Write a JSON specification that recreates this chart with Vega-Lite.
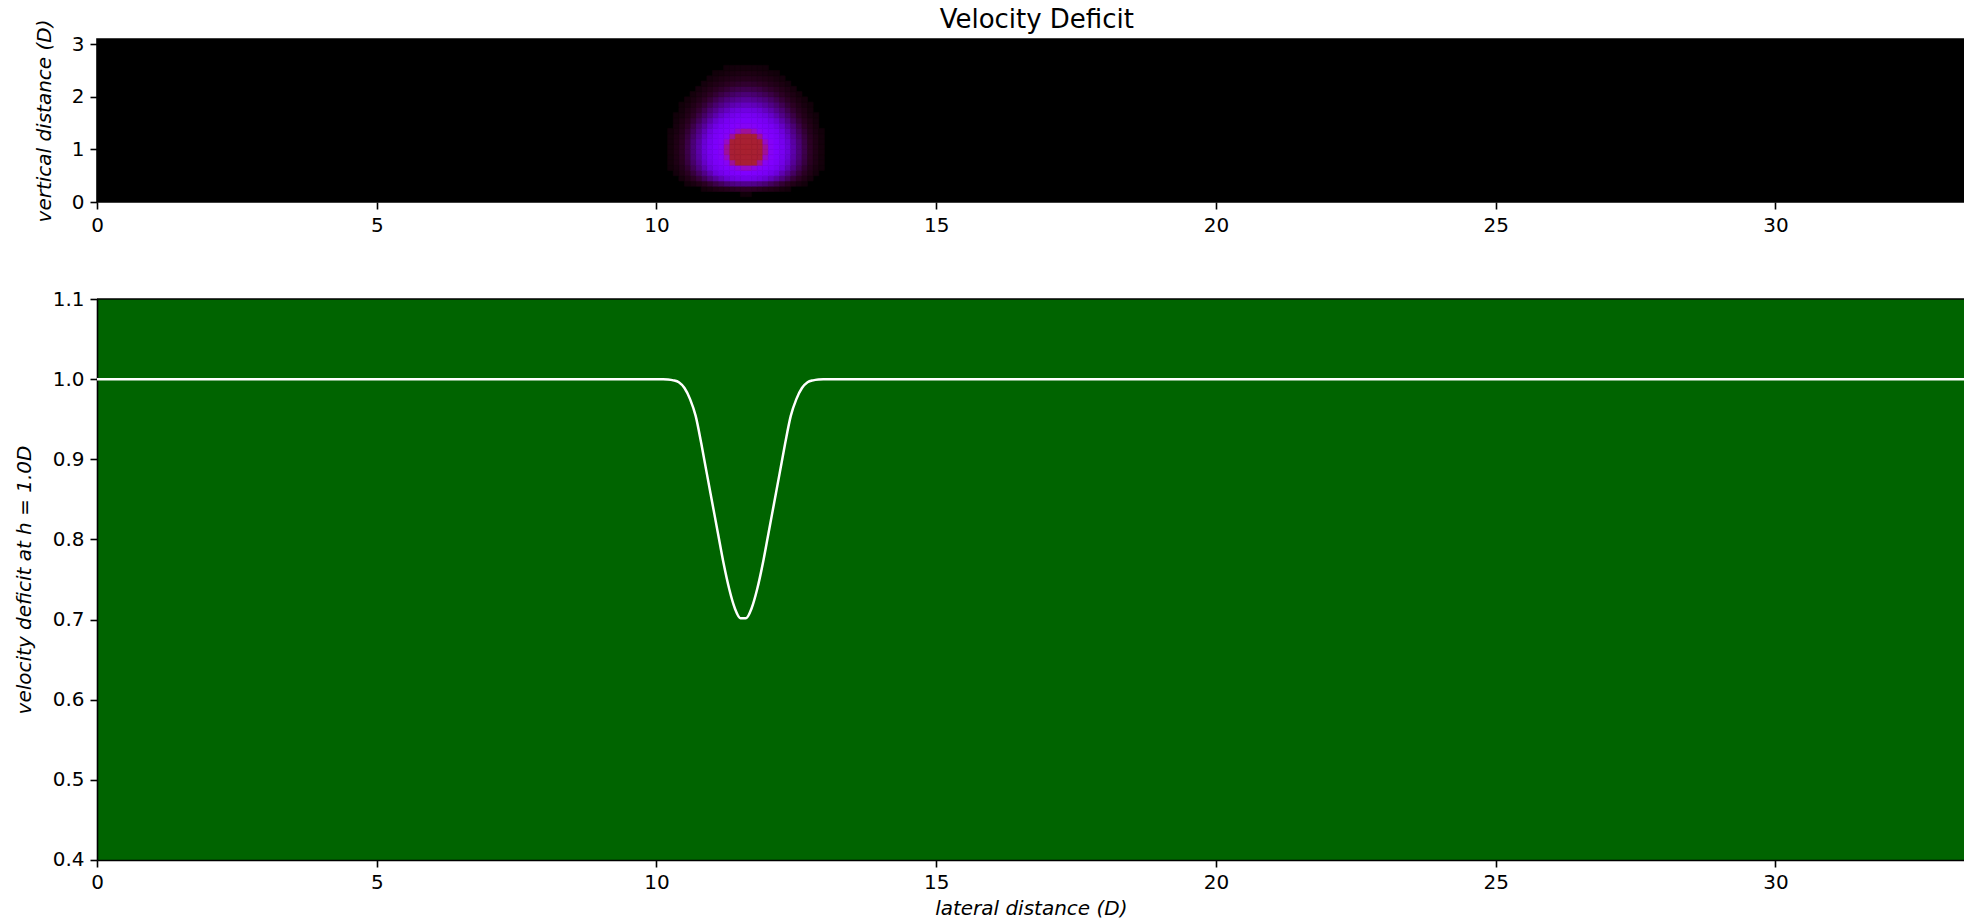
{
  "$schema": "https://vega.github.io/schema/vega-lite/v6.json",
  "background": "#ffffff",
  "padding": {"left": 14, "top": 6, "right": 0, "bottom": 0},
  "autosize": {"type": "pad"},
  "bounds": "flush",
  "spacing": 97,
  "config": {
    "font": "DejaVu Sans",
    "view": {"stroke": null},
    "axis": {
      "labelFont": "DejaVu Sans", "labelFontSize": 20, "labelColor": "#000000", "labelFlush": false,
      "titleFont": "DejaVu Sans", "titleFontSize": 20, "titleFontWeight": "normal", "titleFontStyle": "italic", "titleColor": "#000000",
      "tickColor": "#000000", "tickSize": 7, "tickWidth": 1.6, "labelPadding": 6,
      "domainColor": "#000000", "domainWidth": 1.6, "grid": false
    },
    "title": {"font": "DejaVu Sans", "fontSize": 26, "fontWeight": "normal", "color": "#000000"}
  },
  "vconcat": [
    {
      "width": 1867.6,
      "height": 163,
      "title": {"text": "Velocity Deficit", "anchor": "middle", "frame": "group", "dx": 6, "dy": 22.5, "offset": 8},
      "view": {"fill": "#000000", "stroke": "#000000", "strokeWidth": 1.6},
      "data": {"values": [
        {"x":11.5,"x2":11.6,"y":0.1,"y2":0.2,"v":0.001},{"x":11.6,"x2":11.7,"y":0.1,"y2":0.2,"v":0.001},
        {"x":11.5,"x2":11.6,"y":0.2,"y2":0.3,"v":0.013},{"x":11.4,"x2":11.5,"y":0.2,"y2":0.3,"v":0.012},{"x":11.3,"x2":11.4,"y":0.2,"y2":0.3,"v":0.0103},{"x":11.2,"x2":11.3,"y":0.2,"y2":0.3,"v":0.008},{"x":11.1,"x2":11.2,"y":0.2,"y2":0.3,"v":0.006},{"x":11.0,"x2":11.1,"y":0.2,"y2":0.3,"v":0.004},{"x":10.9,"x2":11.0,"y":0.2,"y2":0.3,"v":0.0025},{"x":10.8,"x2":10.9,"y":0.2,"y2":0.3,"v":0.0014},
        {"x":11.6,"x2":11.7,"y":0.2,"y2":0.3,"v":0.013},{"x":11.7,"x2":11.8,"y":0.2,"y2":0.3,"v":0.012},{"x":11.8,"x2":11.9,"y":0.2,"y2":0.3,"v":0.0103},{"x":11.9,"x2":12.0,"y":0.2,"y2":0.3,"v":0.008},{"x":12.0,"x2":12.1,"y":0.2,"y2":0.3,"v":0.006},{"x":12.1,"x2":12.2,"y":0.2,"y2":0.3,"v":0.004},{"x":12.2,"x2":12.3,"y":0.2,"y2":0.3,"v":0.0025},{"x":12.3,"x2":12.4,"y":0.2,"y2":0.3,"v":0.0014},
        {"x":11.5,"x2":11.6,"y":0.3,"y2":0.4,"v":0.112},{"x":11.4,"x2":11.5,"y":0.3,"y2":0.4,"v":0.106},{"x":11.3,"x2":11.4,"y":0.3,"y2":0.4,"v":0.092},{"x":11.2,"x2":11.3,"y":0.3,"y2":0.4,"v":0.075},{"x":11.1,"x2":11.2,"y":0.3,"y2":0.4,"v":0.055},{"x":11.0,"x2":11.1,"y":0.3,"y2":0.4,"v":0.036},{"x":10.9,"x2":11.0,"y":0.3,"y2":0.4,"v":0.022},{"x":10.8,"x2":10.9,"y":0.3,"y2":0.4,"v":0.011},{"x":10.7,"x2":10.8,"y":0.3,"y2":0.4,"v":0.0057},{"x":10.6,"x2":10.7,"y":0.3,"y2":0.4,"v":0.0028},{"x":10.5,"x2":10.6,"y":0.3,"y2":0.4,"v":0.0012},
        {"x":11.6,"x2":11.7,"y":0.3,"y2":0.4,"v":0.112},{"x":11.7,"x2":11.8,"y":0.3,"y2":0.4,"v":0.106},{"x":11.8,"x2":11.9,"y":0.3,"y2":0.4,"v":0.092},{"x":11.9,"x2":12.0,"y":0.3,"y2":0.4,"v":0.075},{"x":12.0,"x2":12.1,"y":0.3,"y2":0.4,"v":0.055},{"x":12.1,"x2":12.2,"y":0.3,"y2":0.4,"v":0.036},{"x":12.2,"x2":12.3,"y":0.3,"y2":0.4,"v":0.022},{"x":12.3,"x2":12.4,"y":0.3,"y2":0.4,"v":0.011},{"x":12.4,"x2":12.5,"y":0.3,"y2":0.4,"v":0.0057},{"x":12.5,"x2":12.6,"y":0.3,"y2":0.4,"v":0.0028},{"x":12.6,"x2":12.7,"y":0.3,"y2":0.4,"v":0.0012},
        {"x":11.5,"x2":11.6,"y":0.4,"y2":0.5,"v":0.353},{"x":11.4,"x2":11.5,"y":0.4,"y2":0.5,"v":0.335},{"x":11.3,"x2":11.4,"y":0.4,"y2":0.5,"v":0.299},{"x":11.2,"x2":11.3,"y":0.4,"y2":0.5,"v":0.249},{"x":11.1,"x2":11.2,"y":0.4,"y2":0.5,"v":0.19},{"x":11.0,"x2":11.1,"y":0.4,"y2":0.5,"v":0.133},{"x":10.9,"x2":11.0,"y":0.4,"y2":0.5,"v":0.089},{"x":10.8,"x2":10.9,"y":0.4,"y2":0.5,"v":0.052},{"x":10.7,"x2":10.8,"y":0.4,"y2":0.5,"v":0.026},{"x":10.6,"x2":10.7,"y":0.4,"y2":0.5,"v":0.0117},{"x":10.5,"x2":10.6,"y":0.4,"y2":0.5,"v":0.005},{"x":10.4,"x2":10.5,"y":0.4,"y2":0.5,"v":0.002},
        {"x":11.6,"x2":11.7,"y":0.4,"y2":0.5,"v":0.353},{"x":11.7,"x2":11.8,"y":0.4,"y2":0.5,"v":0.335},{"x":11.8,"x2":11.9,"y":0.4,"y2":0.5,"v":0.299},{"x":11.9,"x2":12.0,"y":0.4,"y2":0.5,"v":0.249},{"x":12.0,"x2":12.1,"y":0.4,"y2":0.5,"v":0.19},{"x":12.1,"x2":12.2,"y":0.4,"y2":0.5,"v":0.133},{"x":12.2,"x2":12.3,"y":0.4,"y2":0.5,"v":0.089},{"x":12.3,"x2":12.4,"y":0.4,"y2":0.5,"v":0.052},{"x":12.4,"x2":12.5,"y":0.4,"y2":0.5,"v":0.026},{"x":12.5,"x2":12.6,"y":0.4,"y2":0.5,"v":0.0117},{"x":12.6,"x2":12.7,"y":0.4,"y2":0.5,"v":0.005},{"x":12.7,"x2":12.8,"y":0.4,"y2":0.5,"v":0.002},
        {"x":11.5,"x2":11.6,"y":0.5,"y2":0.6,"v":0.552},{"x":11.4,"x2":11.5,"y":0.5,"y2":0.6,"v":0.529},{"x":11.3,"x2":11.4,"y":0.5,"y2":0.6,"v":0.484},{"x":11.2,"x2":11.3,"y":0.5,"y2":0.6,"v":0.422},{"x":11.1,"x2":11.2,"y":0.5,"y2":0.6,"v":0.346},{"x":11.0,"x2":11.1,"y":0.5,"y2":0.6,"v":0.259},{"x":10.9,"x2":11.0,"y":0.5,"y2":0.6,"v":0.172},{"x":10.8,"x2":10.9,"y":0.5,"y2":0.6,"v":0.105},{"x":10.7,"x2":10.8,"y":0.5,"y2":0.6,"v":0.059},{"x":10.6,"x2":10.7,"y":0.5,"y2":0.6,"v":0.028},{"x":10.5,"x2":10.6,"y":0.5,"y2":0.6,"v":0.011},{"x":10.4,"x2":10.5,"y":0.5,"y2":0.6,"v":0.0045},{"x":10.3,"x2":10.4,"y":0.5,"y2":0.6,"v":0.0016},
        {"x":11.6,"x2":11.7,"y":0.5,"y2":0.6,"v":0.552},{"x":11.7,"x2":11.8,"y":0.5,"y2":0.6,"v":0.529},{"x":11.8,"x2":11.9,"y":0.5,"y2":0.6,"v":0.484},{"x":11.9,"x2":12.0,"y":0.5,"y2":0.6,"v":0.422},{"x":12.0,"x2":12.1,"y":0.5,"y2":0.6,"v":0.346},{"x":12.1,"x2":12.2,"y":0.5,"y2":0.6,"v":0.259},{"x":12.2,"x2":12.3,"y":0.5,"y2":0.6,"v":0.172},{"x":12.3,"x2":12.4,"y":0.5,"y2":0.6,"v":0.105},{"x":12.4,"x2":12.5,"y":0.5,"y2":0.6,"v":0.059},{"x":12.5,"x2":12.6,"y":0.5,"y2":0.6,"v":0.028},{"x":12.6,"x2":12.7,"y":0.5,"y2":0.6,"v":0.011},{"x":12.7,"x2":12.8,"y":0.5,"y2":0.6,"v":0.0045},{"x":12.8,"x2":12.9,"y":0.5,"y2":0.6,"v":0.0016},
        {"x":11.5,"x2":11.6,"y":0.6,"y2":0.7,"v":0.727},{"x":11.4,"x2":11.5,"y":0.6,"y2":0.7,"v":0.696},{"x":11.3,"x2":11.4,"y":0.6,"y2":0.7,"v":0.637},{"x":11.2,"x2":11.3,"y":0.6,"y2":0.7,"v":0.559},{"x":11.1,"x2":11.2,"y":0.6,"y2":0.7,"v":0.469},{"x":11.0,"x2":11.1,"y":0.6,"y2":0.7,"v":0.37},{"x":10.9,"x2":11.0,"y":0.6,"y2":0.7,"v":0.264},{"x":10.8,"x2":10.9,"y":0.6,"y2":0.7,"v":0.163},{"x":10.7,"x2":10.8,"y":0.6,"y2":0.7,"v":0.094},{"x":10.6,"x2":10.7,"y":0.6,"y2":0.7,"v":0.048},{"x":10.5,"x2":10.6,"y":0.6,"y2":0.7,"v":0.0197},{"x":10.4,"x2":10.5,"y":0.6,"y2":0.7,"v":0.0077},{"x":10.3,"x2":10.4,"y":0.6,"y2":0.7,"v":0.0028},{"x":10.2,"x2":10.3,"y":0.6,"y2":0.7,"v":0.001},
        {"x":11.6,"x2":11.7,"y":0.6,"y2":0.7,"v":0.727},{"x":11.7,"x2":11.8,"y":0.6,"y2":0.7,"v":0.696},{"x":11.8,"x2":11.9,"y":0.6,"y2":0.7,"v":0.637},{"x":11.9,"x2":12.0,"y":0.6,"y2":0.7,"v":0.559},{"x":12.0,"x2":12.1,"y":0.6,"y2":0.7,"v":0.469},{"x":12.1,"x2":12.2,"y":0.6,"y2":0.7,"v":0.37},{"x":12.2,"x2":12.3,"y":0.6,"y2":0.7,"v":0.264},{"x":12.3,"x2":12.4,"y":0.6,"y2":0.7,"v":0.163},{"x":12.4,"x2":12.5,"y":0.6,"y2":0.7,"v":0.094},{"x":12.5,"x2":12.6,"y":0.6,"y2":0.7,"v":0.048},{"x":12.6,"x2":12.7,"y":0.6,"y2":0.7,"v":0.0197},{"x":12.7,"x2":12.8,"y":0.6,"y2":0.7,"v":0.0077},{"x":12.8,"x2":12.9,"y":0.6,"y2":0.7,"v":0.0028},{"x":12.9,"x2":13.0,"y":0.6,"y2":0.7,"v":0.001},
        {"x":11.5,"x2":11.6,"y":0.7,"y2":0.8,"v":0.868},{"x":11.4,"x2":11.5,"y":0.7,"y2":0.8,"v":0.831},{"x":11.3,"x2":11.4,"y":0.7,"y2":0.8,"v":0.763},{"x":11.2,"x2":11.3,"y":0.7,"y2":0.8,"v":0.668},{"x":11.1,"x2":11.2,"y":0.7,"y2":0.8,"v":0.562},{"x":11.0,"x2":11.1,"y":0.7,"y2":0.8,"v":0.45},{"x":10.9,"x2":11.0,"y":0.7,"y2":0.8,"v":0.335},{"x":10.8,"x2":10.9,"y":0.7,"y2":0.8,"v":0.218},{"x":10.7,"x2":10.8,"y":0.7,"y2":0.8,"v":0.124},{"x":10.6,"x2":10.7,"y":0.7,"y2":0.8,"v":0.066},{"x":10.5,"x2":10.6,"y":0.7,"y2":0.8,"v":0.029},{"x":10.4,"x2":10.5,"y":0.7,"y2":0.8,"v":0.0103},{"x":10.3,"x2":10.4,"y":0.7,"y2":0.8,"v":0.004},{"x":10.2,"x2":10.3,"y":0.7,"y2":0.8,"v":0.0014},
        {"x":11.6,"x2":11.7,"y":0.7,"y2":0.8,"v":0.868},{"x":11.7,"x2":11.8,"y":0.7,"y2":0.8,"v":0.831},{"x":11.8,"x2":11.9,"y":0.7,"y2":0.8,"v":0.763},{"x":11.9,"x2":12.0,"y":0.7,"y2":0.8,"v":0.668},{"x":12.0,"x2":12.1,"y":0.7,"y2":0.8,"v":0.562},{"x":12.1,"x2":12.2,"y":0.7,"y2":0.8,"v":0.45},{"x":12.2,"x2":12.3,"y":0.7,"y2":0.8,"v":0.335},{"x":12.3,"x2":12.4,"y":0.7,"y2":0.8,"v":0.218},{"x":12.4,"x2":12.5,"y":0.7,"y2":0.8,"v":0.124},{"x":12.5,"x2":12.6,"y":0.7,"y2":0.8,"v":0.066},{"x":12.6,"x2":12.7,"y":0.7,"y2":0.8,"v":0.029},{"x":12.7,"x2":12.8,"y":0.7,"y2":0.8,"v":0.0103},{"x":12.8,"x2":12.9,"y":0.7,"y2":0.8,"v":0.004},{"x":12.9,"x2":13.0,"y":0.7,"y2":0.8,"v":0.0014},
        {"x":11.5,"x2":11.6,"y":0.8,"y2":0.9,"v":0.947},{"x":11.4,"x2":11.5,"y":0.8,"y2":0.9,"v":0.906},{"x":11.3,"x2":11.4,"y":0.8,"y2":0.9,"v":0.831},{"x":11.2,"x2":11.3,"y":0.8,"y2":0.9,"v":0.73},{"x":11.1,"x2":11.2,"y":0.8,"y2":0.9,"v":0.612},{"x":11.0,"x2":11.1,"y":0.8,"y2":0.9,"v":0.493},{"x":10.9,"x2":11.0,"y":0.8,"y2":0.9,"v":0.371},{"x":10.8,"x2":10.9,"y":0.8,"y2":0.9,"v":0.249},{"x":10.7,"x2":10.8,"y":0.8,"y2":0.9,"v":0.143},{"x":10.6,"x2":10.7,"y":0.8,"y2":0.9,"v":0.077},{"x":10.5,"x2":10.6,"y":0.8,"y2":0.9,"v":0.034},{"x":10.4,"x2":10.5,"y":0.8,"y2":0.9,"v":0.012},{"x":10.3,"x2":10.4,"y":0.8,"y2":0.9,"v":0.0046},{"x":10.2,"x2":10.3,"y":0.8,"y2":0.9,"v":0.0016},
        {"x":11.6,"x2":11.7,"y":0.8,"y2":0.9,"v":0.947},{"x":11.7,"x2":11.8,"y":0.8,"y2":0.9,"v":0.906},{"x":11.8,"x2":11.9,"y":0.8,"y2":0.9,"v":0.831},{"x":11.9,"x2":12.0,"y":0.8,"y2":0.9,"v":0.73},{"x":12.0,"x2":12.1,"y":0.8,"y2":0.9,"v":0.612},{"x":12.1,"x2":12.2,"y":0.8,"y2":0.9,"v":0.493},{"x":12.2,"x2":12.3,"y":0.8,"y2":0.9,"v":0.371},{"x":12.3,"x2":12.4,"y":0.8,"y2":0.9,"v":0.249},{"x":12.4,"x2":12.5,"y":0.8,"y2":0.9,"v":0.143},{"x":12.5,"x2":12.6,"y":0.8,"y2":0.9,"v":0.077},{"x":12.6,"x2":12.7,"y":0.8,"y2":0.9,"v":0.034},{"x":12.7,"x2":12.8,"y":0.8,"y2":0.9,"v":0.012},{"x":12.8,"x2":12.9,"y":0.8,"y2":0.9,"v":0.0046},{"x":12.9,"x2":13.0,"y":0.8,"y2":0.9,"v":0.0016},
        {"x":11.5,"x2":11.6,"y":0.9,"y2":1.0,"v":0.987},{"x":11.4,"x2":11.5,"y":0.9,"y2":1.0,"v":0.947},{"x":11.3,"x2":11.4,"y":0.9,"y2":1.0,"v":0.868},{"x":11.2,"x2":11.3,"y":0.9,"y2":1.0,"v":0.763},{"x":11.1,"x2":11.2,"y":0.9,"y2":1.0,"v":0.639},{"x":11.0,"x2":11.1,"y":0.9,"y2":1.0,"v":0.515},{"x":10.9,"x2":11.0,"y":0.9,"y2":1.0,"v":0.391},{"x":10.8,"x2":10.9,"y":0.9,"y2":1.0,"v":0.265},{"x":10.7,"x2":10.8,"y":0.9,"y2":1.0,"v":0.152},{"x":10.6,"x2":10.7,"y":0.9,"y2":1.0,"v":0.082},{"x":10.5,"x2":10.6,"y":0.9,"y2":1.0,"v":0.037},{"x":10.4,"x2":10.5,"y":0.9,"y2":1.0,"v":0.013},{"x":10.3,"x2":10.4,"y":0.9,"y2":1.0,"v":0.005},{"x":10.2,"x2":10.3,"y":0.9,"y2":1.0,"v":0.0017},
        {"x":11.6,"x2":11.7,"y":0.9,"y2":1.0,"v":0.987},{"x":11.7,"x2":11.8,"y":0.9,"y2":1.0,"v":0.947},{"x":11.8,"x2":11.9,"y":0.9,"y2":1.0,"v":0.868},{"x":11.9,"x2":12.0,"y":0.9,"y2":1.0,"v":0.763},{"x":12.0,"x2":12.1,"y":0.9,"y2":1.0,"v":0.639},{"x":12.1,"x2":12.2,"y":0.9,"y2":1.0,"v":0.515},{"x":12.2,"x2":12.3,"y":0.9,"y2":1.0,"v":0.391},{"x":12.3,"x2":12.4,"y":0.9,"y2":1.0,"v":0.265},{"x":12.4,"x2":12.5,"y":0.9,"y2":1.0,"v":0.152},{"x":12.5,"x2":12.6,"y":0.9,"y2":1.0,"v":0.082},{"x":12.6,"x2":12.7,"y":0.9,"y2":1.0,"v":0.037},{"x":12.7,"x2":12.8,"y":0.9,"y2":1.0,"v":0.013},{"x":12.8,"x2":12.9,"y":0.9,"y2":1.0,"v":0.005},{"x":12.9,"x2":13.0,"y":0.9,"y2":1.0,"v":0.0017},
        {"x":11.5,"x2":11.6,"y":1.0,"y2":1.1,"v":0.987},{"x":11.4,"x2":11.5,"y":1.0,"y2":1.1,"v":0.947},{"x":11.3,"x2":11.4,"y":1.0,"y2":1.1,"v":0.868},{"x":11.2,"x2":11.3,"y":1.0,"y2":1.1,"v":0.763},{"x":11.1,"x2":11.2,"y":1.0,"y2":1.1,"v":0.639},{"x":11.0,"x2":11.1,"y":1.0,"y2":1.1,"v":0.515},{"x":10.9,"x2":11.0,"y":1.0,"y2":1.1,"v":0.391},{"x":10.8,"x2":10.9,"y":1.0,"y2":1.1,"v":0.265},{"x":10.7,"x2":10.8,"y":1.0,"y2":1.1,"v":0.152},{"x":10.6,"x2":10.7,"y":1.0,"y2":1.1,"v":0.082},{"x":10.5,"x2":10.6,"y":1.0,"y2":1.1,"v":0.037},{"x":10.4,"x2":10.5,"y":1.0,"y2":1.1,"v":0.013},{"x":10.3,"x2":10.4,"y":1.0,"y2":1.1,"v":0.005},{"x":10.2,"x2":10.3,"y":1.0,"y2":1.1,"v":0.0017},
        {"x":11.6,"x2":11.7,"y":1.0,"y2":1.1,"v":0.987},{"x":11.7,"x2":11.8,"y":1.0,"y2":1.1,"v":0.947},{"x":11.8,"x2":11.9,"y":1.0,"y2":1.1,"v":0.868},{"x":11.9,"x2":12.0,"y":1.0,"y2":1.1,"v":0.763},{"x":12.0,"x2":12.1,"y":1.0,"y2":1.1,"v":0.639},{"x":12.1,"x2":12.2,"y":1.0,"y2":1.1,"v":0.515},{"x":12.2,"x2":12.3,"y":1.0,"y2":1.1,"v":0.391},{"x":12.3,"x2":12.4,"y":1.0,"y2":1.1,"v":0.265},{"x":12.4,"x2":12.5,"y":1.0,"y2":1.1,"v":0.152},{"x":12.5,"x2":12.6,"y":1.0,"y2":1.1,"v":0.082},{"x":12.6,"x2":12.7,"y":1.0,"y2":1.1,"v":0.037},{"x":12.7,"x2":12.8,"y":1.0,"y2":1.1,"v":0.013},{"x":12.8,"x2":12.9,"y":1.0,"y2":1.1,"v":0.005},{"x":12.9,"x2":13.0,"y":1.0,"y2":1.1,"v":0.0017},
        {"x":11.5,"x2":11.6,"y":1.1,"y2":1.2,"v":0.947},{"x":11.4,"x2":11.5,"y":1.1,"y2":1.2,"v":0.906},{"x":11.3,"x2":11.4,"y":1.1,"y2":1.2,"v":0.831},{"x":11.2,"x2":11.3,"y":1.1,"y2":1.2,"v":0.73},{"x":11.1,"x2":11.2,"y":1.1,"y2":1.2,"v":0.612},{"x":11.0,"x2":11.1,"y":1.1,"y2":1.2,"v":0.493},{"x":10.9,"x2":11.0,"y":1.1,"y2":1.2,"v":0.371},{"x":10.8,"x2":10.9,"y":1.1,"y2":1.2,"v":0.249},{"x":10.7,"x2":10.8,"y":1.1,"y2":1.2,"v":0.143},{"x":10.6,"x2":10.7,"y":1.1,"y2":1.2,"v":0.077},{"x":10.5,"x2":10.6,"y":1.1,"y2":1.2,"v":0.034},{"x":10.4,"x2":10.5,"y":1.1,"y2":1.2,"v":0.012},{"x":10.3,"x2":10.4,"y":1.1,"y2":1.2,"v":0.0046},{"x":10.2,"x2":10.3,"y":1.1,"y2":1.2,"v":0.0016},
        {"x":11.6,"x2":11.7,"y":1.1,"y2":1.2,"v":0.947},{"x":11.7,"x2":11.8,"y":1.1,"y2":1.2,"v":0.906},{"x":11.8,"x2":11.9,"y":1.1,"y2":1.2,"v":0.831},{"x":11.9,"x2":12.0,"y":1.1,"y2":1.2,"v":0.73},{"x":12.0,"x2":12.1,"y":1.1,"y2":1.2,"v":0.612},{"x":12.1,"x2":12.2,"y":1.1,"y2":1.2,"v":0.493},{"x":12.2,"x2":12.3,"y":1.1,"y2":1.2,"v":0.371},{"x":12.3,"x2":12.4,"y":1.1,"y2":1.2,"v":0.249},{"x":12.4,"x2":12.5,"y":1.1,"y2":1.2,"v":0.143},{"x":12.5,"x2":12.6,"y":1.1,"y2":1.2,"v":0.077},{"x":12.6,"x2":12.7,"y":1.1,"y2":1.2,"v":0.034},{"x":12.7,"x2":12.8,"y":1.1,"y2":1.2,"v":0.012},{"x":12.8,"x2":12.9,"y":1.1,"y2":1.2,"v":0.0046},{"x":12.9,"x2":13.0,"y":1.1,"y2":1.2,"v":0.0016},
        {"x":11.5,"x2":11.6,"y":1.2,"y2":1.3,"v":0.868},{"x":11.4,"x2":11.5,"y":1.2,"y2":1.3,"v":0.831},{"x":11.3,"x2":11.4,"y":1.2,"y2":1.3,"v":0.763},{"x":11.2,"x2":11.3,"y":1.2,"y2":1.3,"v":0.668},{"x":11.1,"x2":11.2,"y":1.2,"y2":1.3,"v":0.562},{"x":11.0,"x2":11.1,"y":1.2,"y2":1.3,"v":0.45},{"x":10.9,"x2":11.0,"y":1.2,"y2":1.3,"v":0.335},{"x":10.8,"x2":10.9,"y":1.2,"y2":1.3,"v":0.218},{"x":10.7,"x2":10.8,"y":1.2,"y2":1.3,"v":0.124},{"x":10.6,"x2":10.7,"y":1.2,"y2":1.3,"v":0.066},{"x":10.5,"x2":10.6,"y":1.2,"y2":1.3,"v":0.029},{"x":10.4,"x2":10.5,"y":1.2,"y2":1.3,"v":0.0103},{"x":10.3,"x2":10.4,"y":1.2,"y2":1.3,"v":0.004},{"x":10.2,"x2":10.3,"y":1.2,"y2":1.3,"v":0.0014},
        {"x":11.6,"x2":11.7,"y":1.2,"y2":1.3,"v":0.868},{"x":11.7,"x2":11.8,"y":1.2,"y2":1.3,"v":0.831},{"x":11.8,"x2":11.9,"y":1.2,"y2":1.3,"v":0.763},{"x":11.9,"x2":12.0,"y":1.2,"y2":1.3,"v":0.668},{"x":12.0,"x2":12.1,"y":1.2,"y2":1.3,"v":0.562},{"x":12.1,"x2":12.2,"y":1.2,"y2":1.3,"v":0.45},{"x":12.2,"x2":12.3,"y":1.2,"y2":1.3,"v":0.335},{"x":12.3,"x2":12.4,"y":1.2,"y2":1.3,"v":0.218},{"x":12.4,"x2":12.5,"y":1.2,"y2":1.3,"v":0.124},{"x":12.5,"x2":12.6,"y":1.2,"y2":1.3,"v":0.066},{"x":12.6,"x2":12.7,"y":1.2,"y2":1.3,"v":0.029},{"x":12.7,"x2":12.8,"y":1.2,"y2":1.3,"v":0.0103},{"x":12.8,"x2":12.9,"y":1.2,"y2":1.3,"v":0.004},{"x":12.9,"x2":13.0,"y":1.2,"y2":1.3,"v":0.0014},
        {"x":11.5,"x2":11.6,"y":1.3,"y2":1.4,"v":0.763},{"x":11.4,"x2":11.5,"y":1.3,"y2":1.4,"v":0.73},{"x":11.3,"x2":11.4,"y":1.3,"y2":1.4,"v":0.668},{"x":11.2,"x2":11.3,"y":1.3,"y2":1.4,"v":0.586},{"x":11.1,"x2":11.2,"y":1.3,"y2":1.4,"v":0.493},{"x":11.0,"x2":11.1,"y":1.3,"y2":1.4,"v":0.391},{"x":10.9,"x2":11.0,"y":1.3,"y2":1.4,"v":0.282},{"x":10.8,"x2":10.9,"y":1.3,"y2":1.4,"v":0.177},{"x":10.7,"x2":10.8,"y":1.3,"y2":1.4,"v":0.101},{"x":10.6,"x2":10.7,"y":1.3,"y2":1.4,"v":0.052},{"x":10.5,"x2":10.6,"y":1.3,"y2":1.4,"v":0.022},{"x":10.4,"x2":10.5,"y":1.3,"y2":1.4,"v":0.008},{"x":10.3,"x2":10.4,"y":1.3,"y2":1.4,"v":0.003},{"x":10.2,"x2":10.3,"y":1.3,"y2":1.4,"v":0.001},
        {"x":11.6,"x2":11.7,"y":1.3,"y2":1.4,"v":0.763},{"x":11.7,"x2":11.8,"y":1.3,"y2":1.4,"v":0.73},{"x":11.8,"x2":11.9,"y":1.3,"y2":1.4,"v":0.668},{"x":11.9,"x2":12.0,"y":1.3,"y2":1.4,"v":0.586},{"x":12.0,"x2":12.1,"y":1.3,"y2":1.4,"v":0.493},{"x":12.1,"x2":12.2,"y":1.3,"y2":1.4,"v":0.391},{"x":12.2,"x2":12.3,"y":1.3,"y2":1.4,"v":0.282},{"x":12.3,"x2":12.4,"y":1.3,"y2":1.4,"v":0.177},{"x":12.4,"x2":12.5,"y":1.3,"y2":1.4,"v":0.101},{"x":12.5,"x2":12.6,"y":1.3,"y2":1.4,"v":0.052},{"x":12.6,"x2":12.7,"y":1.3,"y2":1.4,"v":0.022},{"x":12.7,"x2":12.8,"y":1.3,"y2":1.4,"v":0.008},{"x":12.8,"x2":12.9,"y":1.3,"y2":1.4,"v":0.003},{"x":12.9,"x2":13.0,"y":1.3,"y2":1.4,"v":0.001},
        {"x":11.5,"x2":11.6,"y":1.4,"y2":1.5,"v":0.639},{"x":11.4,"x2":11.5,"y":1.4,"y2":1.5,"v":0.612},{"x":11.3,"x2":11.4,"y":1.4,"y2":1.5,"v":0.562},{"x":11.2,"x2":11.3,"y":1.4,"y2":1.5,"v":0.493},{"x":11.1,"x2":11.2,"y":1.4,"y2":1.5,"v":0.41},{"x":11.0,"x2":11.1,"y":1.4,"y2":1.5,"v":0.317},{"x":10.9,"x2":11.0,"y":1.4,"y2":1.5,"v":0.218},{"x":10.8,"x2":10.9,"y":1.4,"y2":1.5,"v":0.133},{"x":10.7,"x2":10.8,"y":1.4,"y2":1.5,"v":0.077},{"x":10.6,"x2":10.7,"y":1.4,"y2":1.5,"v":0.037},{"x":10.5,"x2":10.6,"y":1.4,"y2":1.5,"v":0.0145},{"x":10.4,"x2":10.5,"y":1.4,"y2":1.5,"v":0.006},{"x":10.3,"x2":10.4,"y":1.4,"y2":1.5,"v":0.0023},
        {"x":11.6,"x2":11.7,"y":1.4,"y2":1.5,"v":0.639},{"x":11.7,"x2":11.8,"y":1.4,"y2":1.5,"v":0.612},{"x":11.8,"x2":11.9,"y":1.4,"y2":1.5,"v":0.562},{"x":11.9,"x2":12.0,"y":1.4,"y2":1.5,"v":0.493},{"x":12.0,"x2":12.1,"y":1.4,"y2":1.5,"v":0.41},{"x":12.1,"x2":12.2,"y":1.4,"y2":1.5,"v":0.317},{"x":12.2,"x2":12.3,"y":1.4,"y2":1.5,"v":0.218},{"x":12.3,"x2":12.4,"y":1.4,"y2":1.5,"v":0.133},{"x":12.4,"x2":12.5,"y":1.4,"y2":1.5,"v":0.077},{"x":12.5,"x2":12.6,"y":1.4,"y2":1.5,"v":0.037},{"x":12.6,"x2":12.7,"y":1.4,"y2":1.5,"v":0.0145},{"x":12.7,"x2":12.8,"y":1.4,"y2":1.5,"v":0.006},{"x":12.8,"x2":12.9,"y":1.4,"y2":1.5,"v":0.0023},
        {"x":11.5,"x2":11.6,"y":1.5,"y2":1.6,"v":0.515},{"x":11.4,"x2":11.5,"y":1.5,"y2":1.6,"v":0.493},{"x":11.3,"x2":11.4,"y":1.5,"y2":1.6,"v":0.45},{"x":11.2,"x2":11.3,"y":1.5,"y2":1.6,"v":0.391},{"x":11.1,"x2":11.2,"y":1.5,"y2":1.6,"v":0.317},{"x":11.0,"x2":11.1,"y":1.5,"y2":1.6,"v":0.234},{"x":10.9,"x2":11.0,"y":1.5,"y2":1.6,"v":0.152},{"x":10.8,"x2":10.9,"y":1.5,"y2":1.6,"v":0.095},{"x":10.7,"x2":10.8,"y":1.5,"y2":1.6,"v":0.052},{"x":10.6,"x2":10.7,"y":1.5,"y2":1.6,"v":0.024},{"x":10.5,"x2":10.6,"y":1.5,"y2":1.6,"v":0.0095},{"x":10.4,"x2":10.5,"y":1.5,"y2":1.6,"v":0.004},{"x":10.3,"x2":10.4,"y":1.5,"y2":1.6,"v":0.0015},
        {"x":11.6,"x2":11.7,"y":1.5,"y2":1.6,"v":0.515},{"x":11.7,"x2":11.8,"y":1.5,"y2":1.6,"v":0.493},{"x":11.8,"x2":11.9,"y":1.5,"y2":1.6,"v":0.45},{"x":11.9,"x2":12.0,"y":1.5,"y2":1.6,"v":0.391},{"x":12.0,"x2":12.1,"y":1.5,"y2":1.6,"v":0.317},{"x":12.1,"x2":12.2,"y":1.5,"y2":1.6,"v":0.234},{"x":12.2,"x2":12.3,"y":1.5,"y2":1.6,"v":0.152},{"x":12.3,"x2":12.4,"y":1.5,"y2":1.6,"v":0.095},{"x":12.4,"x2":12.5,"y":1.5,"y2":1.6,"v":0.052},{"x":12.5,"x2":12.6,"y":1.5,"y2":1.6,"v":0.024},{"x":12.6,"x2":12.7,"y":1.5,"y2":1.6,"v":0.0095},{"x":12.7,"x2":12.8,"y":1.5,"y2":1.6,"v":0.004},{"x":12.8,"x2":12.9,"y":1.5,"y2":1.6,"v":0.0015},
        {"x":11.5,"x2":11.6,"y":1.6,"y2":1.7,"v":0.403},{"x":11.4,"x2":11.5,"y":1.6,"y2":1.7,"v":0.384},{"x":11.3,"x2":11.4,"y":1.6,"y2":1.7,"v":0.346},{"x":11.2,"x2":11.3,"y":1.6,"y2":1.7,"v":0.293},{"x":11.1,"x2":11.2,"y":1.6,"y2":1.7,"v":0.228},{"x":11.0,"x2":11.1,"y":1.6,"y2":1.7,"v":0.16},{"x":10.9,"x2":11.0,"y":1.6,"y2":1.7,"v":0.106},{"x":10.8,"x2":10.9,"y":1.6,"y2":1.7,"v":0.064},{"x":10.7,"x2":10.8,"y":1.6,"y2":1.7,"v":0.033},{"x":10.6,"x2":10.7,"y":1.6,"y2":1.7,"v":0.014},{"x":10.5,"x2":10.6,"y":1.6,"y2":1.7,"v":0.0062},{"x":10.4,"x2":10.5,"y":1.6,"y2":1.7,"v":0.0026},{"x":10.3,"x2":10.4,"y":1.6,"y2":1.7,"v":0.001},
        {"x":11.6,"x2":11.7,"y":1.6,"y2":1.7,"v":0.403},{"x":11.7,"x2":11.8,"y":1.6,"y2":1.7,"v":0.384},{"x":11.8,"x2":11.9,"y":1.6,"y2":1.7,"v":0.346},{"x":11.9,"x2":12.0,"y":1.6,"y2":1.7,"v":0.293},{"x":12.0,"x2":12.1,"y":1.6,"y2":1.7,"v":0.228},{"x":12.1,"x2":12.2,"y":1.6,"y2":1.7,"v":0.16},{"x":12.2,"x2":12.3,"y":1.6,"y2":1.7,"v":0.106},{"x":12.3,"x2":12.4,"y":1.6,"y2":1.7,"v":0.064},{"x":12.4,"x2":12.5,"y":1.6,"y2":1.7,"v":0.033},{"x":12.5,"x2":12.6,"y":1.6,"y2":1.7,"v":0.014},{"x":12.6,"x2":12.7,"y":1.6,"y2":1.7,"v":0.0062},{"x":12.7,"x2":12.8,"y":1.6,"y2":1.7,"v":0.0026},{"x":12.8,"x2":12.9,"y":1.6,"y2":1.7,"v":0.001},
        {"x":11.5,"x2":11.6,"y":1.7,"y2":1.8,"v":0.303},{"x":11.4,"x2":11.5,"y":1.7,"y2":1.8,"v":0.285},{"x":11.3,"x2":11.4,"y":1.7,"y2":1.8,"v":0.252},{"x":11.2,"x2":11.3,"y":1.7,"y2":1.8,"v":0.206},{"x":11.1,"x2":11.2,"y":1.7,"y2":1.8,"v":0.154},{"x":11.0,"x2":11.1,"y":1.7,"y2":1.8,"v":0.109},{"x":10.9,"x2":11.0,"y":1.7,"y2":1.8,"v":0.073},{"x":10.8,"x2":10.9,"y":1.7,"y2":1.8,"v":0.041},{"x":10.7,"x2":10.8,"y":1.7,"y2":1.8,"v":0.02},{"x":10.6,"x2":10.7,"y":1.7,"y2":1.8,"v":0.0088},{"x":10.5,"x2":10.6,"y":1.7,"y2":1.8,"v":0.004},{"x":10.4,"x2":10.5,"y":1.7,"y2":1.8,"v":0.0016},
        {"x":11.6,"x2":11.7,"y":1.7,"y2":1.8,"v":0.303},{"x":11.7,"x2":11.8,"y":1.7,"y2":1.8,"v":0.285},{"x":11.8,"x2":11.9,"y":1.7,"y2":1.8,"v":0.252},{"x":11.9,"x2":12.0,"y":1.7,"y2":1.8,"v":0.206},{"x":12.0,"x2":12.1,"y":1.7,"y2":1.8,"v":0.154},{"x":12.1,"x2":12.2,"y":1.7,"y2":1.8,"v":0.109},{"x":12.2,"x2":12.3,"y":1.7,"y2":1.8,"v":0.073},{"x":12.3,"x2":12.4,"y":1.7,"y2":1.8,"v":0.041},{"x":12.4,"x2":12.5,"y":1.7,"y2":1.8,"v":0.02},{"x":12.5,"x2":12.6,"y":1.7,"y2":1.8,"v":0.0088},{"x":12.6,"x2":12.7,"y":1.7,"y2":1.8,"v":0.004},{"x":12.7,"x2":12.8,"y":1.7,"y2":1.8,"v":0.0016},
        {"x":11.5,"x2":11.6,"y":1.8,"y2":1.9,"v":0.205},{"x":11.4,"x2":11.5,"y":1.8,"y2":1.9,"v":0.192},{"x":11.3,"x2":11.4,"y":1.8,"y2":1.9,"v":0.166},{"x":11.2,"x2":11.3,"y":1.8,"y2":1.9,"v":0.134},{"x":11.1,"x2":11.2,"y":1.8,"y2":1.9,"v":0.102},{"x":11.0,"x2":11.1,"y":1.8,"y2":1.9,"v":0.072},{"x":10.9,"x2":11.0,"y":1.8,"y2":1.9,"v":0.045},{"x":10.8,"x2":10.9,"y":1.8,"y2":1.9,"v":0.024},{"x":10.7,"x2":10.8,"y":1.8,"y2":1.9,"v":0.0113},{"x":10.6,"x2":10.7,"y":1.8,"y2":1.9,"v":0.0055},{"x":10.5,"x2":10.6,"y":1.8,"y2":1.9,"v":0.0025},{"x":10.4,"x2":10.5,"y":1.8,"y2":1.9,"v":0.001},
        {"x":11.6,"x2":11.7,"y":1.8,"y2":1.9,"v":0.205},{"x":11.7,"x2":11.8,"y":1.8,"y2":1.9,"v":0.192},{"x":11.8,"x2":11.9,"y":1.8,"y2":1.9,"v":0.166},{"x":11.9,"x2":12.0,"y":1.8,"y2":1.9,"v":0.134},{"x":12.0,"x2":12.1,"y":1.8,"y2":1.9,"v":0.102},{"x":12.1,"x2":12.2,"y":1.8,"y2":1.9,"v":0.072},{"x":12.2,"x2":12.3,"y":1.8,"y2":1.9,"v":0.045},{"x":12.3,"x2":12.4,"y":1.8,"y2":1.9,"v":0.024},{"x":12.4,"x2":12.5,"y":1.8,"y2":1.9,"v":0.0113},{"x":12.5,"x2":12.6,"y":1.8,"y2":1.9,"v":0.0055},{"x":12.6,"x2":12.7,"y":1.8,"y2":1.9,"v":0.0025},{"x":12.7,"x2":12.8,"y":1.8,"y2":1.9,"v":0.001},
        {"x":11.5,"x2":11.6,"y":1.9,"y2":2.0,"v":0.128},{"x":11.4,"x2":11.5,"y":1.9,"y2":2.0,"v":0.118},{"x":11.3,"x2":11.4,"y":1.9,"y2":2.0,"v":0.104},{"x":11.2,"x2":11.3,"y":1.9,"y2":2.0,"v":0.085},{"x":11.1,"x2":11.2,"y":1.9,"y2":2.0,"v":0.063},{"x":11.0,"x2":11.1,"y":1.9,"y2":2.0,"v":0.042},{"x":10.9,"x2":11.0,"y":1.9,"y2":2.0,"v":0.025},{"x":10.8,"x2":10.9,"y":1.9,"y2":2.0,"v":0.0124},{"x":10.7,"x2":10.8,"y":1.9,"y2":2.0,"v":0.0066},{"x":10.6,"x2":10.7,"y":1.9,"y2":2.0,"v":0.0032},{"x":10.5,"x2":10.6,"y":1.9,"y2":2.0,"v":0.0014},
        {"x":11.6,"x2":11.7,"y":1.9,"y2":2.0,"v":0.128},{"x":11.7,"x2":11.8,"y":1.9,"y2":2.0,"v":0.118},{"x":11.8,"x2":11.9,"y":1.9,"y2":2.0,"v":0.104},{"x":11.9,"x2":12.0,"y":1.9,"y2":2.0,"v":0.085},{"x":12.0,"x2":12.1,"y":1.9,"y2":2.0,"v":0.063},{"x":12.1,"x2":12.2,"y":1.9,"y2":2.0,"v":0.042},{"x":12.2,"x2":12.3,"y":1.9,"y2":2.0,"v":0.025},{"x":12.3,"x2":12.4,"y":1.9,"y2":2.0,"v":0.0124},{"x":12.4,"x2":12.5,"y":1.9,"y2":2.0,"v":0.0066},{"x":12.5,"x2":12.6,"y":1.9,"y2":2.0,"v":0.0032},{"x":12.6,"x2":12.7,"y":1.9,"y2":2.0,"v":0.0014},
        {"x":11.5,"x2":11.6,"y":2.0,"y2":2.1,"v":0.077},{"x":11.4,"x2":11.5,"y":2.0,"y2":2.1,"v":0.072},{"x":11.3,"x2":11.4,"y":2.0,"y2":2.1,"v":0.061},{"x":11.2,"x2":11.3,"y":2.0,"y2":2.1,"v":0.048},{"x":11.1,"x2":11.2,"y":2.0,"y2":2.1,"v":0.034},{"x":11.0,"x2":11.1,"y":2.0,"y2":2.1,"v":0.022},{"x":10.9,"x2":11.0,"y":2.0,"y2":2.1,"v":0.012},{"x":10.8,"x2":10.9,"y":2.0,"y2":2.1,"v":0.0069},{"x":10.7,"x2":10.8,"y":2.0,"y2":2.1,"v":0.0037},{"x":10.6,"x2":10.7,"y":2.0,"y2":2.1,"v":0.0017},
        {"x":11.6,"x2":11.7,"y":2.0,"y2":2.1,"v":0.077},{"x":11.7,"x2":11.8,"y":2.0,"y2":2.1,"v":0.072},{"x":11.8,"x2":11.9,"y":2.0,"y2":2.1,"v":0.061},{"x":11.9,"x2":12.0,"y":2.0,"y2":2.1,"v":0.048},{"x":12.0,"x2":12.1,"y":2.0,"y2":2.1,"v":0.034},{"x":12.1,"x2":12.2,"y":2.0,"y2":2.1,"v":0.022},{"x":12.2,"x2":12.3,"y":2.0,"y2":2.1,"v":0.012},{"x":12.3,"x2":12.4,"y":2.0,"y2":2.1,"v":0.0069},{"x":12.4,"x2":12.5,"y":2.0,"y2":2.1,"v":0.0037},{"x":12.5,"x2":12.6,"y":2.0,"y2":2.1,"v":0.0017},
        {"x":11.5,"x2":11.6,"y":2.1,"y2":2.2,"v":0.0405},{"x":11.4,"x2":11.5,"y":2.1,"y2":2.2,"v":0.037},{"x":11.3,"x2":11.4,"y":2.1,"y2":2.2,"v":0.0315},{"x":11.2,"x2":11.3,"y":2.1,"y2":2.2,"v":0.0238},{"x":11.1,"x2":11.2,"y":2.1,"y2":2.2,"v":0.0164},{"x":11.0,"x2":11.1,"y":2.1,"y2":2.2,"v":0.0104},{"x":10.9,"x2":11.0,"y":2.1,"y2":2.2,"v":0.0066},{"x":10.8,"x2":10.9,"y":2.1,"y2":2.2,"v":0.0037},{"x":10.7,"x2":10.8,"y":2.1,"y2":2.2,"v":0.0019},
        {"x":11.6,"x2":11.7,"y":2.1,"y2":2.2,"v":0.0405},{"x":11.7,"x2":11.8,"y":2.1,"y2":2.2,"v":0.037},{"x":11.8,"x2":11.9,"y":2.1,"y2":2.2,"v":0.0315},{"x":11.9,"x2":12.0,"y":2.1,"y2":2.2,"v":0.0238},{"x":12.0,"x2":12.1,"y":2.1,"y2":2.2,"v":0.0164},{"x":12.1,"x2":12.2,"y":2.1,"y2":2.2,"v":0.0104},{"x":12.2,"x2":12.3,"y":2.1,"y2":2.2,"v":0.0066},{"x":12.3,"x2":12.4,"y":2.1,"y2":2.2,"v":0.0037},{"x":12.4,"x2":12.5,"y":2.1,"y2":2.2,"v":0.0019},
        {"x":11.5,"x2":11.6,"y":2.2,"y2":2.3,"v":0.0188},{"x":11.4,"x2":11.5,"y":2.2,"y2":2.3,"v":0.017},{"x":11.3,"x2":11.4,"y":2.2,"y2":2.3,"v":0.0132},{"x":11.2,"x2":11.3,"y":2.2,"y2":2.3,"v":0.0107},{"x":11.1,"x2":11.2,"y":2.2,"y2":2.3,"v":0.0076},{"x":11.0,"x2":11.1,"y":2.2,"y2":2.3,"v":0.0051},{"x":10.9,"x2":11.0,"y":2.2,"y2":2.3,"v":0.0032},{"x":10.8,"x2":10.9,"y":2.2,"y2":2.3,"v":0.0018},
        {"x":11.6,"x2":11.7,"y":2.2,"y2":2.3,"v":0.0188},{"x":11.7,"x2":11.8,"y":2.2,"y2":2.3,"v":0.017},{"x":11.8,"x2":11.9,"y":2.2,"y2":2.3,"v":0.0132},{"x":11.9,"x2":12.0,"y":2.2,"y2":2.3,"v":0.0107},{"x":12.0,"x2":12.1,"y":2.2,"y2":2.3,"v":0.0076},{"x":12.1,"x2":12.2,"y":2.2,"y2":2.3,"v":0.0051},{"x":12.2,"x2":12.3,"y":2.2,"y2":2.3,"v":0.0032},{"x":12.3,"x2":12.4,"y":2.2,"y2":2.3,"v":0.0018},
        {"x":11.5,"x2":11.6,"y":2.3,"y2":2.4,"v":0.008},{"x":11.4,"x2":11.5,"y":2.3,"y2":2.4,"v":0.0074},{"x":11.3,"x2":11.4,"y":2.3,"y2":2.4,"v":0.0064},{"x":11.2,"x2":11.3,"y":2.3,"y2":2.4,"v":0.005},{"x":11.1,"x2":11.2,"y":2.3,"y2":2.4,"v":0.0037},{"x":11.0,"x2":11.1,"y":2.3,"y2":2.4,"v":0.0025},{"x":10.9,"x2":11.0,"y":2.3,"y2":2.4,"v":0.0015},
        {"x":11.6,"x2":11.7,"y":2.3,"y2":2.4,"v":0.008},{"x":11.7,"x2":11.8,"y":2.3,"y2":2.4,"v":0.0074},{"x":11.8,"x2":11.9,"y":2.3,"y2":2.4,"v":0.0064},{"x":11.9,"x2":12.0,"y":2.3,"y2":2.4,"v":0.005},{"x":12.0,"x2":12.1,"y":2.3,"y2":2.4,"v":0.0037},{"x":12.1,"x2":12.2,"y":2.3,"y2":2.4,"v":0.0025},{"x":12.2,"x2":12.3,"y":2.3,"y2":2.4,"v":0.0015},
        {"x":11.5,"x2":11.6,"y":2.4,"y2":2.5,"v":0.0037},{"x":11.4,"x2":11.5,"y":2.4,"y2":2.5,"v":0.0034},{"x":11.3,"x2":11.4,"y":2.4,"y2":2.5,"v":0.0029},{"x":11.2,"x2":11.3,"y":2.4,"y2":2.5,"v":0.0024},{"x":11.1,"x2":11.2,"y":2.4,"y2":2.5,"v":0.0016},{"x":11.0,"x2":11.1,"y":2.4,"y2":2.5,"v":0.0011},
        {"x":11.6,"x2":11.7,"y":2.4,"y2":2.5,"v":0.0037},{"x":11.7,"x2":11.8,"y":2.4,"y2":2.5,"v":0.0034},{"x":11.8,"x2":11.9,"y":2.4,"y2":2.5,"v":0.0029},{"x":11.9,"x2":12.0,"y":2.4,"y2":2.5,"v":0.0024},{"x":12.0,"x2":12.1,"y":2.4,"y2":2.5,"v":0.0016},{"x":12.1,"x2":12.2,"y":2.4,"y2":2.5,"v":0.0011},
        {"x":11.5,"x2":11.6,"y":2.5,"y2":2.6,"v":0.0016},{"x":11.4,"x2":11.5,"y":2.5,"y2":2.6,"v":0.0015},{"x":11.3,"x2":11.4,"y":2.5,"y2":2.6,"v":0.0012},{"x":11.2,"x2":11.3,"y":2.5,"y2":2.6,"v":0.001},
        {"x":11.6,"x2":11.7,"y":2.5,"y2":2.6,"v":0.0016},{"x":11.7,"x2":11.8,"y":2.5,"y2":2.6,"v":0.0015},{"x":11.8,"x2":11.9,"y":2.5,"y2":2.6,"v":0.0012},{"x":11.9,"x2":12.0,"y":2.5,"y2":2.6,"v":0.001}
      ]},
      "mark": {"type": "rect", "strokeWidth": 0.6},
      "encoding": {
        "x": {"field": "x", "type": "quantitative", "scale": {"domain": [0, 33.38], "nice": false, "zero": false}, "axis": {"values": [0, 5, 10, 15, 20, 25, 30], "title": null, "domain": false}},
        "x2": {"field": "x2"},
        "y": {"field": "y", "type": "quantitative", "scale": {"domain": [0, 3.1], "nice": false}, "axis": {"values": [0, 1, 2, 3], "title": "vertical distance (D)", "domain": false, "titlePadding": 17}},
        "y2": {"field": "y2"},
        "color": {"field": "v", "type": "quantitative", "legend": null, "scale": {"type": "linear", "interpolate": "rgb", "clamp": true,
          "domain": [0, 0.001, 0.004, 0.012, 0.035, 0.08, 0.15, 0.26, 0.39, 0.55, 0.68, 0.745, 0.79, 0.83, 1.0],
          "range": ["#000000", "#12000a", "#1e0014", "#2c0024", "#3c0048", "#4c0078", "#5c00a8", "#6c00d8", "#7800f2", "#8000ff", "#8804f2", "#9a0cba", "#a61768", "#a81f36", "#a82030"]}},
        "stroke": {"field": "v", "type": "quantitative", "legend": null, "scale": {"type": "linear", "interpolate": "rgb", "clamp": true,
          "domain": [0, 0.001, 0.004, 0.012, 0.035, 0.08, 0.15, 0.26, 0.39, 0.55, 0.68, 0.745, 0.79, 0.83, 1.0],
          "range": ["#000000", "#12000a", "#1e0014", "#2c0024", "#3c0048", "#4c0078", "#5c00a8", "#6c00d8", "#7800f2", "#8000ff", "#8804f2", "#9a0cba", "#a61768", "#a81f36", "#a82030"]}}
      }
    },
    {
      "width": 1867.6,
      "height": 561,
      "view": {"fill": "#006400", "stroke": null},
      "layer": [
        {
          "data": {"values": [
            {"x":0,"v":1},{"x":9.9,"v":1},{"x":10.0,"v":1},{"x":10.1,"v":0.99985},{"x":10.2,"v":0.9995},{"x":10.3,"v":0.9985},{"x":10.4,"v":0.9961},{"x":10.5,"v":0.9889},{"x":10.6,"v":0.9751},{"x":10.7,"v":0.9541},{"x":10.8,"v":0.9199},{"x":10.9,"v":0.8821},{"x":11.0,"v":0.8446},{"x":11.1,"v":0.8071},{"x":11.2,"v":0.7699},{"x":11.3,"v":0.7381},{"x":11.4,"v":0.7141},{"x":11.5,"v":0.7018},{"x":11.6,"v":0.7018},{"x":11.7,"v":0.7141},{"x":11.8,"v":0.7381},{"x":11.9,"v":0.7699},{"x":12.0,"v":0.8071},{"x":12.1,"v":0.8446},{"x":12.2,"v":0.8821},{"x":12.3,"v":0.9199},{"x":12.4,"v":0.9541},{"x":12.5,"v":0.9751},{"x":12.6,"v":0.9889},{"x":12.7,"v":0.9961},{"x":12.8,"v":0.9985},{"x":12.9,"v":0.9995},{"x":13.0,"v":0.99985},{"x":13.1,"v":1},{"x":33.38,"v":1}
          ]},
          "mark": {"type": "line", "color": "#ffffff", "strokeWidth": 2.5, "clip": true, "interpolate": "monotone"},
          "encoding": {
            "x": {"field": "x", "type": "quantitative", "scale": {"domain": [0, 33.38], "nice": false, "zero": false}, "axis": {"values": [0, 5, 10, 15, 20, 25, 30], "title": "lateral distance (D)", "titlePadding": 6}},
            "y": {"field": "v", "type": "quantitative", "scale": {"domain": [0.4, 1.1], "nice": false, "zero": false}, "axis": {"values": [0.4, 0.5, 0.6, 0.7, 0.8, 0.9, 1.0, 1.1], "format": ".1f", "title": "velocity deficit at h = 1.0D", "titlePadding": 18}}
          }
        },
        {
          "data": {"values": [{}]},
          "mark": {"type": "rule", "color": "#000000", "strokeWidth": 1.6},
          "encoding": {"y": {"datum": 1.1}}
        }
      ]
    }
  ]
}
